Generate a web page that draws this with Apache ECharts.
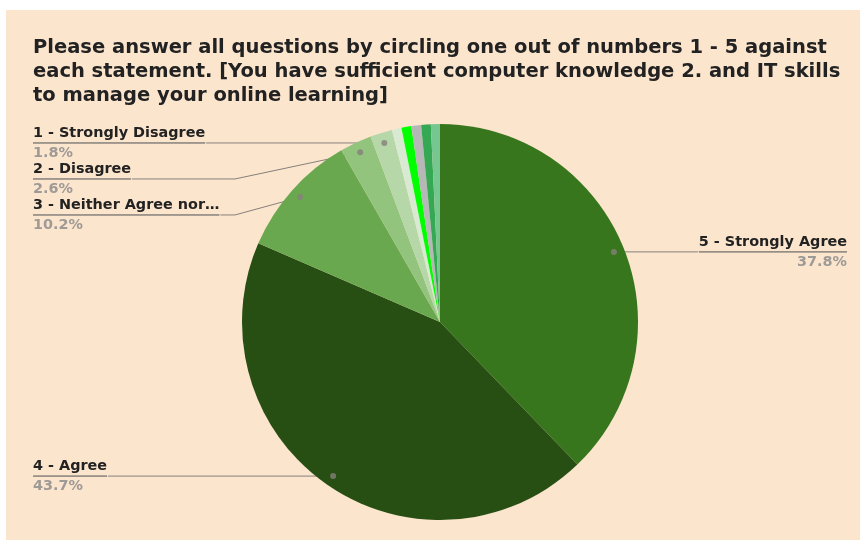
<!DOCTYPE html>
<html>
<head>
<meta charset="utf-8">
<script src="https://cdn.jsdelivr.net/npm/echarts@6/dist/echarts.min.js"></script>
<style>
  html, body { margin: 0; padding: 0; background: #ffffff; overflow: hidden; }
  #chart { position: absolute; left: 6px; top: 10px; width: 854px; height: 530px; background: #fce5cd; }
</style>
</head>
<body>
<div id="chart"></div>
<script>
// answers, clockwise from 12 o'clock
var categories = ['5 - Strongly Agree', '4 - Agree', '3 - Neither Agree nor…', '2 - Disagree',
    '1 - Strongly Disagree', 'Other A', 'Other B', 'Other C', 'Other D', 'Other E'];
var values = [37.8, 43.7, 10.2, 2.6, 1.8, 0.78, 0.8, 0.8, 0.78, 0.74];
var titleLines = [
    'Please answer all questions by circling one out of numbers 1 - 5 against',
    'each statement. [You have sufficient computer knowledge 2. and IT skills',
    'to manage your online learning]'
];

var colors = ['#38761d', '#274e13', '#6aa84f', '#93c47d', '#b6d7a8',
    '#d9ead3', '#00ff00', '#b7b7b7', '#34a853', '#76c68f'];

var CENTER = [434, 312];
var RADIUS = 198;
var DOT_R = 0.947;     // label line starts a bit inside the slice
var BEND_X = 229;      // where shifted left labels bend

var total = values.reduce(function (a, b) { return a + b; }, 0);

// mid angle (percent of circle) of every slice, for the little dots
var mids = [];
var acc = 0;
values.forEach(function (v) {
    mids.push((acc + v / 2) / total * 100);
    acc += v;
});

var sliceData = categories.map(function (c, i) {
    return { name: c, value: values[i], itemStyle: { color: colors[i] } };
});

var labelData = categories.map(function (c, i) {
    var show = values[i] / total * 100 >= 1.5;
    return {
        name: c,
        value: values[i],
        label: { show: show, edgeDistance: mids[i] < 50 ? 13 : 27 },
        labelLine: { show: show }
    };
});

var dotData = [];
labelData.forEach(function (d, i) {
    if (d.label.show) dotData.push([DOT_R, mids[i]]);
});

var chart = echarts.init(document.getElementById('chart'));

chart.setOption({
    backgroundColor: '#fce5cd',
    animation: false,
    textStyle: { fontFamily: 'DejaVu Sans, Liberation Sans, sans-serif' },
    title: {
        text: titleLines.join('\n'),
        left: 22,
        top: 21,
        textStyle: { fontSize: 19.5, fontWeight: 'bold', color: '#222222', lineHeight: 24, fontFamily: 'DejaVu Sans' }
    },
    polar: { center: CENTER, radius: RADIUS },
    radiusAxis: { type: 'value', min: 0, max: 1, show: false },
    angleAxis: { type: 'value', min: 0, max: 100, startAngle: 90, clockwise: true, show: false },
    series: [
        {
            type: 'pie',
            center: CENTER,
            radius: RADIUS,
            startAngle: 90,
            clockwise: true,
            silent: true,
            itemStyle: { borderWidth: 0 },
            label: { show: false },
            labelLine: { show: false },
            data: sliceData
        },
        {
            // transparent copy, only carries the labels
            type: 'pie',
            center: CENTER,
            radius: RADIUS * DOT_R,
            startAngle: 90,
            clockwise: true,
            silent: true,
            itemStyle: { color: 'rgba(0,0,0,0)' },
            label: {
                position: 'outer',
                alignTo: 'edge',
                distanceToLabelLine: 0,
                formatter: function (p) {
                    return '{name|' + p.name + '}\n{hr|}\n{pct|' + (p.value / total * 100).toFixed(1) + '%}';
                },
                rich: {
                    name: { fontSize: 14.4, fontWeight: 'bold', color: '#222222', lineHeight: 20, fontFamily: 'DejaVu Sans' },
                    hr: { width: '100%', height: 0, lineHeight: 0, borderWidth: 1, borderColor: '#86807b' },
                    pct: { fontSize: 14.4, fontWeight: 'bold', color: '#9e9a96', lineHeight: 20, fontFamily: 'DejaVu Sans' }
                }
            },
            labelLine: {
                length: 0,
                length2: 14,
                lineStyle: { color: '#86807b', width: 1 }
            },
            labelLayout: function (p) {
                var pts = p.labelLinePoints;
                if (!pts) return;
                var p0 = pts[0], p2 = pts[pts.length - 1];
                if (Math.abs(p0[1] - p2[1]) < 1.5 || p2[0] > p0[0]) {
                    return { labelLinePoints: [p0, [p2[0], p0[1]], [p2[0], p0[1]]] };
                }
                return { labelLinePoints: [p0, [BEND_X, p2[1]], p2] };
            },
            data: labelData
        },
        {
            type: 'scatter',
            coordinateSystem: 'polar',
            symbol: 'circle',
            symbolSize: 6,
            silent: true,
            itemStyle: { color: '#86807b' },
            data: dotData
        }
    ]
});
</script>
</body>
</html>
